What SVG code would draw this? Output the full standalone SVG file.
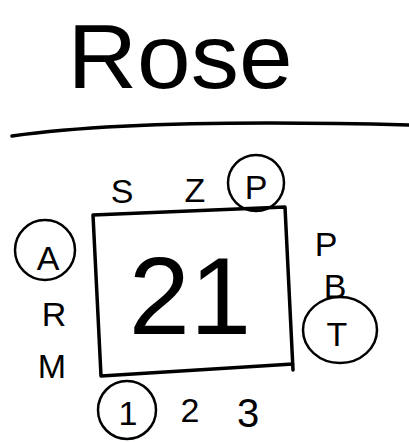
<svg xmlns="http://www.w3.org/2000/svg" width="409" height="442" viewBox="0 0 409 442">
<style>
text{font-family:"Liberation Sans",Arial,sans-serif;fill:#000;text-anchor:middle}
.s{stroke:#000;stroke-width:3.5;fill:none;stroke-linecap:round;stroke-linejoin:round}
.c{stroke:#000;stroke-width:2.5;fill:none}
.l{font-size:34px}
</style>
<rect width="409" height="442" fill="#fff"/>
<g id="title"><text x="180" y="88" font-size="90" textLength="225" lengthAdjust="spacingAndGlyphs">Rose</text></g>
<g id="rule"><path class="s" d="M12,136 Q140,118 409,125" stroke-width="4"/></g>
<g id="box">
<path class="s" d="M93,215 L285,207 L293,370 M293,364 L101,376 L93,215"/>
<text x="190" y="334" font-size="110">21</text>
</g>
<g id="top">
<text class="l" x="122" y="203">S</text>
<text class="l" x="195" y="202">Z</text>
<g id="topP"><circle class="c" cx="256" cy="183" r="28"/><text class="l" x="256" y="199">P</text></g>
</g>
<g id="left">
<g id="leftA"><circle class="c" cx="45" cy="250" r="30"/><text class="l" x="48" y="270">A</text></g>
<text class="l" x="54" y="326">R</text>
<text class="l" x="52" y="378">M</text>
</g>
<g id="right">
<text class="l" x="326" y="256">P</text>
<text class="l" x="335" y="298">B</text>
<g id="rightT"><ellipse class="c" cx="340" cy="330" rx="37" ry="33"/><text class="l" x="337" y="346">T</text></g>
</g>
<g id="bottom">
<g id="bot1"><circle class="c" cx="127" cy="410" r="29"/><text class="l" x="128" y="425">1</text></g>
<text class="l" x="190" y="422">2</text>
<text x="248" y="427" font-size="40">3</text>
</g>
</svg>
